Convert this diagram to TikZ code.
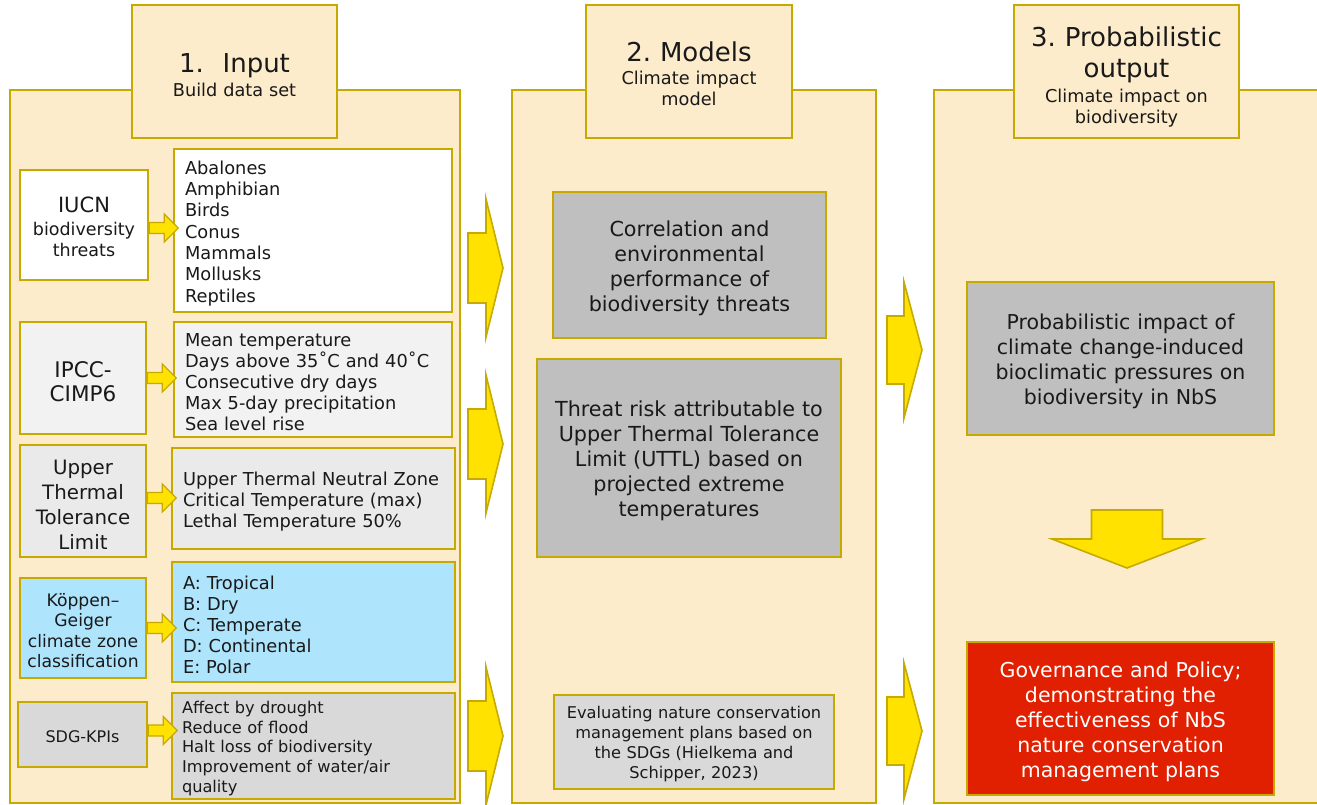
\documentclass[tikz,border=0pt]{standalone}
\usepackage{fontspec}
\setmainfont{DejaVu Sans}

\definecolor{panel}{RGB}{253,236,204}
\definecolor{gold}{RGB}{199,170,0}
\definecolor{arrowy}{RGB}{255,226,0}
\definecolor{grayA}{RGB}{191,191,191}
\definecolor{grayB}{RGB}{217,217,217}
\definecolor{grayC}{RGB}{242,242,242}
\definecolor{grayD}{RGB}{234,234,234}
\definecolor{sky}{RGB}{174,228,252}
\definecolor{alert}{RGB}{224,32,0}
\definecolor{ink}{RGB}{25,25,25}

\newcommand\ttlfont{\fontsize{26}{31}\selectfont}
\newcommand\fsz[2]{\fontsize{#1}{#2}\selectfont}
% taller first line, so that each text block sits a little lower in its box
\newcommand\lift{\rule{0pt}{1.07em}}

\begin{document}
\begin{tikzpicture}[x=1pt,y=-1pt,
  every node/.style={text=ink, execute at begin node=\lift},
  % a rectangle given by its corners (x1,y1) and (x2,y2)
  span/.style n args={4}{at={({(#1+#3)/2},{(#2+#4)/2})},
    minimum width={#3-#1}, minimum height={#4-#2}, text width={#3-#1-8}},
  panelbox/.style={draw=gold, line width=2.6pt, fill=panel, inner sep=0pt},
  box/.style={draw=gold, line width=2.6pt, inner sep=0pt, align=center},
  listbox/.style={draw=gold, line width=2.6pt, inner sep=0pt, align=left},
  barrow/.style={draw=gold, line width=1.6pt, fill=arrowy, line join=miter},
  sarrow/.style={draw=gold, line width=1.2pt, fill=arrowy, line join=miter},
  % block arrow pointing along +x: total length, half shaft, shaft length, half head
  pics/rblock/.style n args={4}{code={
    \path[pic actions] (0,-#2) -- (#3,-#2) -- (#3,-#4) -- (#1,0)
      -- (#3,#4) -- (#3,#2) -- (0,#2) -- cycle;}},
]
\useasboundingbox (0,0) rectangle (1317,805);
\clip (0,0) rectangle (1317,805);

% ---------- three stage panels ----------
\node[panelbox, span={10}{90}{460}{803}] (p1) {};
\node[panelbox, span={512}{90}{876}{803}] (p2) {};
\node[panelbox, span={934}{90}{1330}{803}] (p3) {};

% ---------- stage headers ----------
\node[box, fill=panel, span={132}{5}{337}{138}, font=\fsz{17.7}{21}] (h1)
  {{\ttlfont\rule{0pt}{1em}1.\hspace{0.72em}Input}\\[3pt]Build data set};
\node[box, fill=panel, span={586}{5}{792}{138}, font=\fsz{17.7}{21}] (h2)
  {{\ttlfont\rule{0pt}{0.93em}2. Models}\\[2pt]Climate impact\\model};
\node[box, fill=panel, span={1014}{5}{1239}{138}, font=\fsz{17.7}{21}] (h3)
  {{\ttlfont\rule{0pt}{1.15em}3. Probabilistic}\\[10pt]{\ttlfont output}\\[4pt]Climate impact on\\biodiversity};

% ---------- 1. input data sources ----------
\node[box, fill=white, span={20}{170}{148}{280}, font=\fsz{17.5}{21}] (iucn)
  {{\fsz{21}{24}IUCN}\\[2pt]biodiversity\\threats};
\node[listbox, fill=white, span={174}{149}{452}{312}, text width=256pt,
  font=\fsz{17.8}{21.3}] (iucnlist)
  {Abalones\\Amphibian\\Birds\\Conus\\Mammals\\Mollusks\\Reptiles};

\node[box, fill=grayC, span={20}{322}{146}{434}, font=\fsz{21.5}{24}] (ipcc)
  {IPCC-\\CIMP6};
\node[listbox, fill=grayC, span={174}{322}{452}{437}, text width=256pt,
  font=\fsz{17.8}{21}] (ipcclist)
  {Mean temperature\\Days above 35˚C and 40˚C\\Consecutive dry days\\Max 5-day precipitation\\Sea level rise};

\node[box, fill=grayD, span={20}{445}{146}{557}, font=\fsz{19.8}{25}] (uttl)
  {Upper\\Thermal\\Tolerance\\Limit};
\node[listbox, fill=grayD, span={172}{448}{455}{549}, text width=261pt,
  font=\fsz{17.8}{21}] (uttllist)
  {Upper Thermal Neutral Zone\\Critical Temperature (max)\\Lethal Temperature 50\%};

\node[box, fill=sky, span={20}{578}{146}{678}, font=\fsz{17.2}{20.5}] (kg)
  {Köppen–\\Geiger\\climate zone\\classification};
\node[listbox, fill=sky, span={172}{562}{455}{682}, text width=261pt,
  font=\fsz{17.8}{21}] (kglist)
  {A: Tropical\\B: Dry\\C: Temperate\\D: Continental\\E: Polar};

\node[box, fill=grayB, span={18}{702}{147}{767}, font=\fsz{16}{19}] (sdg)
  {SDG-KPIs};
\node[listbox, fill=grayB, span={172}{693}{455}{799}, text width=263pt,
  font=\fsz{16.2}{19.7}] (sdglist)
  {Affect by drought\\Reduce of flood\\Halt loss of biodiversity\\Improvement of water/air\\quality};

% small arrows from each source to its variables
\pic[sarrow] at ([yshift=-3pt]iucn.east) {rblock={29}{5.5}{15}{14}};
\pic[sarrow] at ([yshift=0pt]ipcc.east) {rblock={29}{5.5}{15}{14}};
\pic[sarrow] at ([yshift=3pt]uttl.east) {rblock={29}{5.5}{15}{14}};
\pic[sarrow] at ([yshift=0pt]kg.east) {rblock={29}{5.5}{15}{14}};
\pic[sarrow] at ([yshift=4pt]sdg.east) {rblock={29}{5.5}{15}{14}};

% ---------- 2. models ----------
\node[box, fill=grayA, span={553}{192}{826}{338}, font=\fsz{20.7}{25}] (corr)
  {Correlation and\\environmental\\performance of\\biodiversity threats};
\node[box, fill=grayA, span={537}{359}{841}{557}, font=\fsz{20.7}{25}] (risk)
  {Threat risk attributable to\\Upper Thermal Tolerance\\Limit (UTTL) based on\\projected extreme\\temperatures};
\node[box, fill=grayB, span={554}{695}{834}{789}, font=\fsz{16.2}{20}] (eval)
  {Evaluating nature conservation\\management plans based on\\the SDGs (Hielkema and\\Schipper, 2023)};

% ---------- 3. probabilistic output ----------
\node[box, fill=grayA, span={967}{282}{1274}{435}, font=\fsz{20.5}{25}] (prob)
  {Probabilistic impact of\\climate change-induced\\bioclimatic pressures on\\biodiversity in NbS};
\node[box, fill=alert, text=white, span={967}{642}{1274}{795}, font=\fsz{20.5}{25}] (gov)
  {Governance and Policy;\\demonstrating the\\effectiveness of NbS\\nature conservation\\management plans};

% ---------- block arrows between stages ----------
\pic[barrow] at (468,268) {rblock={35}{35}{18}{69}};
\pic[barrow] at (468,444) {rblock={35}{35}{18}{69}};
\pic[barrow] at (468,736) {rblock={35}{35}{18}{69}};
\pic[barrow] at (887,350) {rblock={35}{34}{17}{68}};
\pic[barrow] at (887,731) {rblock={35}{34}{17}{68}};
\pic[barrow, rotate=-90] at (1127,510) {rblock={58}{35.5}{29}{75}};

\end{tikzpicture}
\end{document}
